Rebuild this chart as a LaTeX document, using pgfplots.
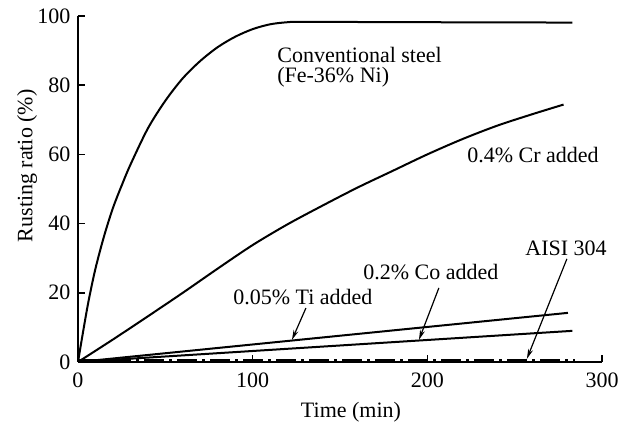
\documentclass[border=0pt]{standalone}
\usepackage{fontspec}
\setmainfont{Liberation Serif}
\usepackage{pgfplots}
\pgfplotsset{compat=1.18}
\usetikzlibrary{arrows.meta}

\begin{document}
\fontsize{11}{13}\selectfont
\begin{tikzpicture}
\useasboundingbox (-39pt,-34.5pt) rectangle (276.5pt,181pt);
\begin{axis}[
  scale only axis,
  width=262pt, height=173pt,
  xmin=0, xmax=300, ymin=0, ymax=100,
  axis x line=bottom, axis y line=left,
  axis line style={-, line width=0.9pt},
  tick align=inside,
  major tick length=3.5pt,
  tick style={line width=0.8pt, black},
  xtick={0,100,200,300},
  ytick={0,20,40,60,80,100},
  /pgf/number format/assume math mode=true,
  every axis label/.append style={font=\fontsize{11}{13}\selectfont},
  ticklabel style={font=\fontsize{11}{13}\selectfont},
  xticklabel style={yshift=-1.5pt},
  xlabel={Time (min)},
  ylabel={Rusting ratio (\%)},
  xlabel style={at={(axis description cs:0.521,-0.145)}, anchor=center},
  ylabel style={at={(axis description cs:-0.097,0.567)}, anchor=center},
  clip=false,
]
% conventional steel (Fe-36% Ni)
\addplot[black, line width=1pt, smooth, tension=0.5] coordinates {
  (0,0)(3,9)(6,17.5)(10,27)(15,36.5)(20,44.5)(25,51)(30,57)(40,67.5)(50,75.5)
  (60,82)(70,87)(80,91)(90,94)(100,96.2)(110,97.6)(120,98.2)(130,98.3)
  (200,98.2)(283,98.1)
};
% 0.4% Cr added
\addplot[black, line width=1pt, smooth, tension=0.5] coordinates {
  (0,0)(20,6.5)(40,13.2)(60,20)(80,27)(100,33.8)(120,39.8)(140,45.2)
  (160,50.4)(180,55.2)(200,60)(220,64.4)(240,68.3)(260,71.6)(278,74.4)
};
% 0.05% Ti added
\addplot[black, line width=1pt] coordinates {(0,0)(280.5,14.2)};
% 0.2% Co added
\addplot[black, line width=1pt] coordinates {(0,0)(283,9)};
% AISI 304
\addplot[black, line width=1pt, dash pattern=on 10pt off 2.5pt on 1.5pt off 2.5pt] coordinates {(0,0.6)(284.5,0.6)};

\node[anchor=west, inner sep=0pt] at (axis cs:113.9,88.7) {Conventional steel};
\node[anchor=west, inner sep=0pt] at (axis cs:113.9,82.4) {(Fe-36\% Ni)};
\node[anchor=west, inner sep=0pt] at (axis cs:222.7,59.8) {0.4\% Cr added};
\node[anchor=west, inner sep=0pt] at (axis cs:255.9,32.9) {AISI 304};
\node[anchor=west, inner sep=0pt] at (axis cs:163.1,26) {0.2\% Co added};
\node[anchor=west, inner sep=0pt] at (axis cs:88.7,18.8) {0.05\% Ti added};

\draw[-{Stealth[length=5pt,width=2.5pt]}, line width=0.6pt] (axis cs:130.5,15.6) -- (axis cs:122.5,6.4);
\draw[-{Stealth[length=5pt,width=2.5pt]}, line width=0.6pt] (axis cs:206.6,21.4) -- (axis cs:195.2,6.4);
\draw[-{Stealth[length=5pt,width=2.5pt]}, line width=0.6pt] (axis cs:279.9,29.8) -- (axis cs:257,0.9);
\end{axis}
\end{tikzpicture}
\end{document}
